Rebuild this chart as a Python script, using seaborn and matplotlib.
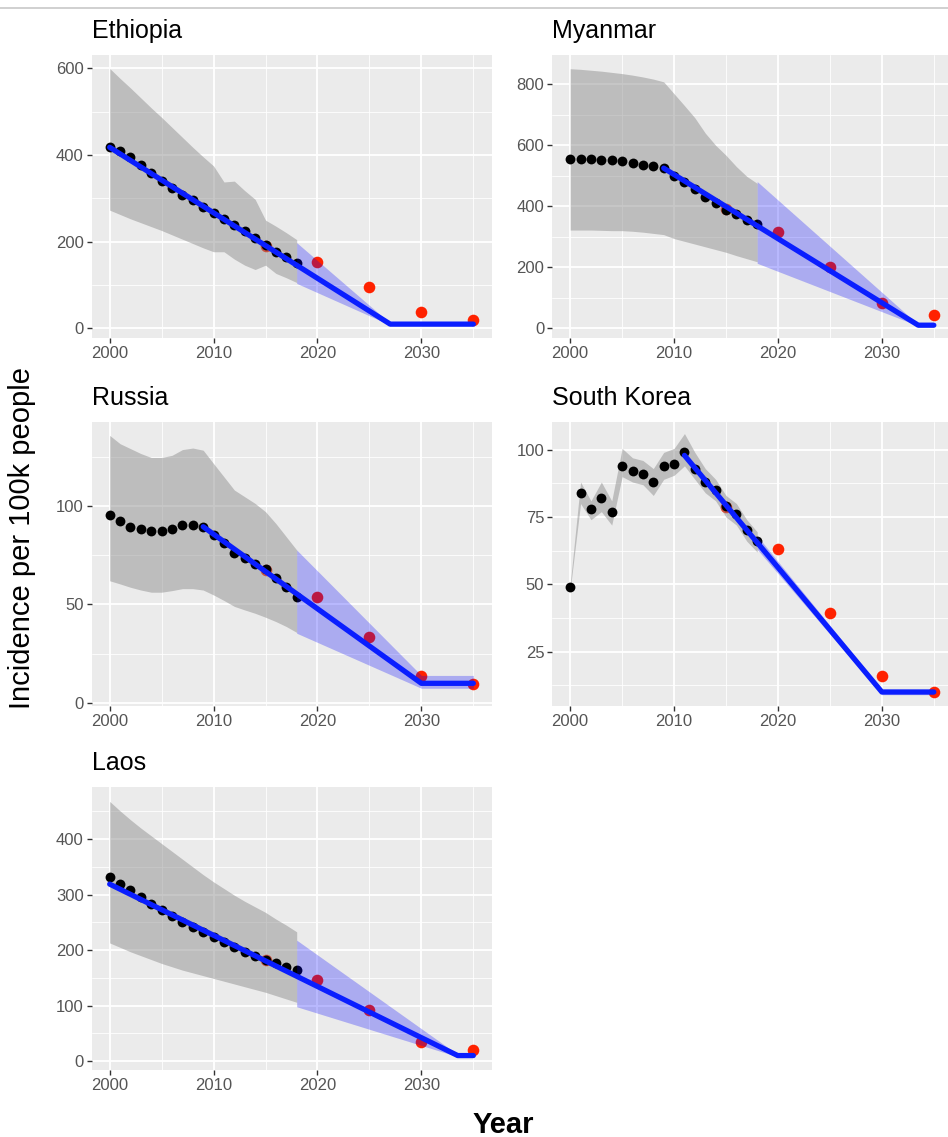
import matplotlib
matplotlib.use("Agg")
import matplotlib.pyplot as plt
from matplotlib.ticker import MultipleLocator
from matplotlib.lines import Line2D
import seaborn as sns

# observed years and target years
years = [2000, 2001, 2002, 2003, 2004, 2005, 2006, 2007, 2008, 2009,
         2010, 2011, 2012, 2013, 2014, 2015, 2016, 2017, 2018]
target_years = [2015, 2020, 2025, 2030, 2035]

# Ethiopia
eth_obs = [418, 410, 395, 377, 358, 341, 323, 309, 296, 281, 267, 252, 238, 225, 208, 192, 177, 164, 150]
eth_hi = [600, 577, 555, 532, 509, 487, 464, 441, 418, 396, 375, 338, 340, 318, 298, 250, 236, 221, 205]
eth_lo = [273, 263, 253, 244, 235, 226, 216, 206, 196, 186, 177, 177, 160, 146, 136, 146, 127, 117, 106]
eth_red = [190, 154, 96, 38, 19]
eth_line_x = [2000, 2027, 2035]
eth_line_y = [418, 10, 10]
eth_band_x = [2018, 2027, 2035]
eth_band_hi = [198, 12, 12]
eth_band_lo = [104, 8, 8]
eth_yticks = [0, 200, 400, 600]

# Myanmar
mya_obs = [555, 556, 555, 553, 551, 548, 541, 536, 531, 527, 500, 478, 456, 432, 410, 389, 375, 356, 342]
mya_hi = [851, 849, 846, 843, 839, 835, 830, 824, 817, 808, 769, 730, 690, 640, 600, 567, 530, 498, 475]
mya_lo = [322, 322, 322, 321, 320, 320, 318, 315, 311, 307, 294, 285, 276, 267, 258, 249, 238, 228, 218]
mya_red = [391, 317, 202, 82, 44]
mya_line_x = [2009, 2033.5, 2035]
mya_line_y = [525, 10, 10]
mya_band_x = [2018, 2033.5, 2035]
mya_band_hi = [481, 12, 12]
mya_band_lo = [213, 8, 8]
mya_yticks = [0, 200, 400, 600, 800]

# Russia
rus_obs = [95.3, 92.4, 89.4, 88.2, 87.4, 87.4, 88.2, 90.2, 90.2, 89.4, 85.2, 81.0, 76.2, 73.4, 70.5, 67.8, 63.2, 59.0, 54.0]
rus_hi = [135.7, 131.5, 129, 126.5, 124.5, 124.5, 125.6, 128.5, 129.3, 128.2, 121.4, 114.7, 108, 104.6, 101.2, 97, 91, 84.3, 77.6]
rus_lo = [62, 60.4, 58.7, 57.3, 56.2, 56.2, 57, 58, 58, 57.3, 54.8, 52, 49, 47.2, 45.5, 43.5, 41.3, 38.8, 35.8]
rus_red = [67.5, 53.6, 33.4, 13.5, 9.8]
rus_line_x = [2009, 2030, 2035]
rus_line_y = [89.4, 10, 10]
rus_band_x = [2018, 2030, 2035]
rus_band_hi = [77.6, 14, 14]
rus_band_lo = [35.4, 7.5, 7.5]
rus_yticks = [0, 50, 100]

# South Korea
kor_obs = [48.9, 84, 77.9, 82, 76.9, 93.9, 92, 90.9, 87.9, 93.9, 94.8, 99, 92.9, 87.9, 85, 79.1, 76, 70, 66]
kor_hi = [50, 88, 81, 88, 81, 100.5, 97, 96, 93, 99, 100.5, 106, 99, 93, 89, 83, 80, 74, 69.5]
kor_lo = [48, 80, 74, 77, 72, 90, 88, 87, 83, 89, 90.5, 94, 89, 84, 81, 75, 72, 66, 62]
kor_red = [78.9, 63.1, 39.5, 15.8, 10]
kor_line_x = [2011, 2030, 2035]
kor_line_y = [97.9, 10, 10]
kor_band_x = [2018, 2030, 2035]
kor_band_hi = [68, 11, 11]
kor_band_lo = [63, 9, 9]
kor_yticks = [25, 50, 75, 100]

# Laos
lao_obs = [331, 319, 308, 295, 283, 272, 261, 251, 241, 232, 223, 214, 205, 197, 189, 183, 177, 170, 164]
lao_hi = [468, 451, 435, 420, 406, 392, 378, 364, 350, 336, 323, 311, 299, 288, 278, 268, 256, 245, 233]
lao_lo = [213, 205, 197, 190, 183, 176, 170, 164, 159, 154, 149, 144, 139, 134, 129, 124, 118, 112, 106]
lao_red = [182, 147, 93, 35, 20]
lao_line_x = [2000, 2033.5, 2035]
lao_line_y = [319, 10, 10]
lao_band_x = [2018, 2033.5, 2035]
lao_band_hi = [218, 12, 12]
lao_band_lo = [98, 8, 8]
lao_yticks = [0, 100, 200, 300, 400]

xticks = [2000, 2010, 2020, 2030]

RED = "#FF2200"
BLUE = "#0A1EFF"

sns.set_theme(style="darkgrid", rc={"axes.facecolor": "#EBEBEB", "grid.color": "white"})
plt.rcParams['font.family'] = ['Liberation Sans', 'DejaVu Sans']

W, H = 948, 1137
fig = plt.figure(figsize=(W / 100, H / 100), dpi=100)


def px_axes(x0, y0, x1, y1):
    return fig.add_axes([x0 / W, 1 - y1 / H, (x1 - x0) / W, (y1 - y0) / H])


def draw_panel(ax, name, obs, hi, lo, red, line_x, line_y, band_x, band_hi, band_lo, yticks, ylim):
    sns.scatterplot(x=target_years, y=red, ax=ax, color=RED, s=70, linewidth=0, zorder=2)
    ax.fill_between(years, lo, hi, color="#8A8A8A", alpha=0.47, linewidth=0, zorder=3)
    sns.scatterplot(x=years, y=obs, ax=ax, color="black", s=50, linewidth=0, zorder=4)
    ax.fill_between(band_x, band_lo, band_hi, color="#0000FF", alpha=0.27, linewidth=0, zorder=5)
    sns.lineplot(x=line_x, y=line_y, ax=ax, color=BLUE, linewidth=3.8, zorder=6,
                 estimator=None, sort=False)

    ax.set_xlim(1998.25, 2036.75)
    ax.set_ylim(*ylim)
    ax.set_xticks(xticks)
    ax.set_yticks(yticks)
    ax.xaxis.set_minor_locator(MultipleLocator(5))
    ax.yaxis.set_minor_locator(MultipleLocator((yticks[1] - yticks[0]) / 2))
    ax.set_axisbelow(True)
    ax.grid(which="major", color="white", linewidth=1.3)
    ax.grid(which="minor", color="white", linewidth=0.6)
    ax.tick_params(which="major", bottom=True, left=True, length=3.5, width=1,
                   color="#333333", labelsize=12, labelcolor="#555555", pad=2)
    ax.tick_params(which="minor", length=0)
    for s in ax.spines.values():
        s.set_visible(False)
    ax.set_xlabel("")
    ax.set_ylabel("")
    ax.set_title(name, loc="left", fontsize=18, pad=12, color="black")


panels = [
    ((91.5, 55, 491.5, 338), "Ethiopia", eth_obs, eth_hi, eth_lo, eth_red, eth_line_x, eth_line_y,
     eth_band_x, eth_band_hi, eth_band_lo, eth_yticks, (-22, 631)),
    ((552, 55, 952, 338), "Myanmar", mya_obs, mya_hi, mya_lo, mya_red, mya_line_x, mya_line_y,
     mya_band_x, mya_band_hi, mya_band_lo, mya_yticks, (-32, 896)),
    ((91.5, 422, 491.5, 706), "Russia", rus_obs, rus_hi, rus_lo, rus_red, rus_line_x, rus_line_y,
     rus_band_x, rus_band_hi, rus_band_lo, rus_yticks, (-1.5, 142.5)),
    ((552, 422, 952, 706), "South Korea", kor_obs, kor_hi, kor_lo, kor_red, kor_line_x, kor_line_y,
     kor_band_x, kor_band_hi, kor_band_lo, kor_yticks, (4.8, 110.3)),
    ((91.5, 787, 491.5, 1070), "Laos", lao_obs, lao_hi, lao_lo, lao_red, lao_line_x, lao_line_y,
     lao_band_x, lao_band_hi, lao_band_lo, lao_yticks, (-16, 494)),
]

for box, *args in panels:
    ax = px_axes(*box)
    draw_panel(ax, *args)

fig.text(22 / W, 1 - 538 / H, "Incidence per 100k people", rotation=90,
         ha="center", va="center", fontsize=21, color="black")
fig.text(503 / W, 1 - 1125 / H, "Year", ha="center", va="center",
         fontsize=21, fontweight="bold", color="black")

# thin rule at the very top
fig.add_artist(Line2D([0, 1], [1 - 8 / H, 1 - 8 / H], color="#C8C8C8", linewidth=1.2))

fig.savefig("out.png", dpi=100)
